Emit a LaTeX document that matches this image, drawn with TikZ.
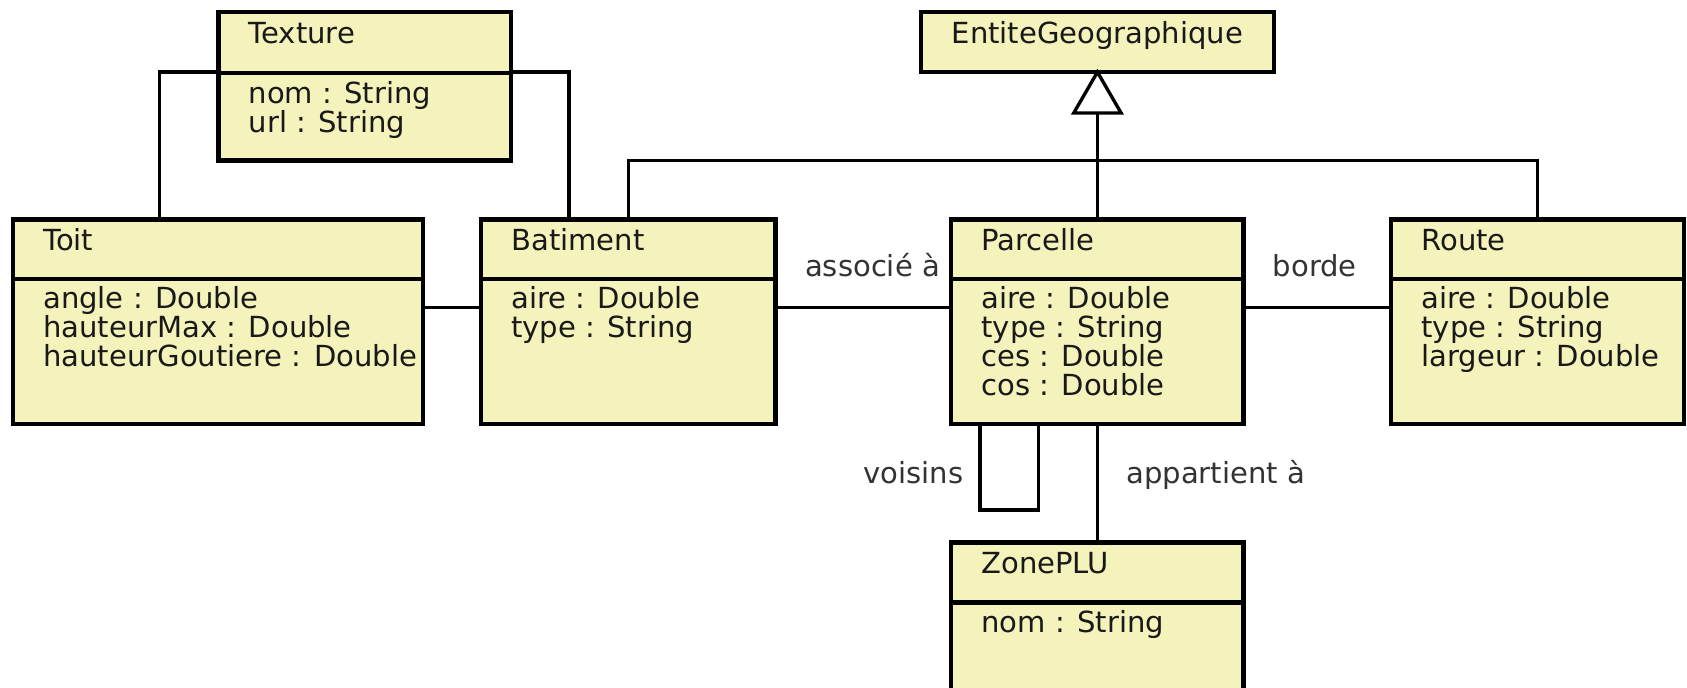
\documentclass[tikz,border=0pt]{standalone}
\usepackage{fontspec}
\setmainfont{DejaVu Sans}
\definecolor{classfill}{RGB}{245,243,188}
\begin{document}
\begin{tikzpicture}[x=1pt,y=-1pt,
  cls/.style={draw=black, fill=classfill, line width=4.2pt, anchor=north west, inner sep=0pt, outer sep=0pt},
  div/.style={line width=4pt},
  conn/.style={line width=3.1pt, line join=miter},
  txt/.style={anchor=base west, inner sep=0pt, text=black!90, font=\fontsize{27}{27}\selectfont},
  ctxt/.style={anchor=base, inner sep=0pt, text=black!90, font=\fontsize{27}{27}\selectfont},
  lab/.style={anchor=base, inner sep=0pt, text=black!80, font=\fontsize{27}{27}\selectfont}]
\clip (0,0) rectangle (1568,639);
\fill[white] (0,0) rectangle (1568,639);
% class boxes
\node[cls, minimum width=272pt, minimum height=138pt] (texture) at (203,11) {};
\node[cls, minimum width=328pt, minimum height=56pt] (entite) at (856,11) {};
\node[cls, minimum width=381pt, minimum height=190pt] (toit) at (12,204) {};
\node[cls, minimum width=274pt, minimum height=190pt] (batiment) at (447,204) {};
\node[cls, minimum width=272pt, minimum height=190pt] (parcelle) at (884,204) {};
\node[cls, minimum width=272pt, minimum height=190pt] (route) at (1293,204) {};
\node[cls, minimum width=272pt, minimum height=160pt] (zone) at (884,504) {};
% dividers
\draw[div] (texture.west |- 0,68) -- (texture.east |- 0,68);
\draw[div] (toit.west |- 0,259) -- (toit.east |- 0,259);
\draw[div] (batiment.west |- 0,259) -- (batiment.east |- 0,259);
\draw[div] (parcelle.west |- 0,259) -- (parcelle.east |- 0,259);
\draw[div] (route.west |- 0,259) -- (route.east |- 0,259);
\draw[div] (zone.west |- 0,560) -- (zone.east |- 0,560);
% titles
\node[txt] (t-texture) at (231,40) {Texture};
\node[ctxt] (t-entite) at (1020,40) {EntiteGeographique};
\node[txt] (t-toit) at (40,233) {Toit};
\node[txt] (t-batiment) at (475,233) {Batiment};
\node[txt] (t-parcelle) at (912,233) {Parcelle};
\node[txt] (t-route) at (1321,233) {Route};
\node[txt] (t-zone) at (912,533) {ZonePLU};
% attributes
\node[txt] (a-tex1) at (231,96) {nom : String};
\node[txt] (a-tex2) at (231,123) {url : String};
\node[txt] (a-toit1) at (40,287) {angle : Double};
\node[txt] (a-toit2) at (40,314) {hauteurMax : Double};
\node[txt] (a-toit3) at (40,341) {hauteurGoutiere : Double};
\node[txt] (a-bat1) at (475,287) {aire : Double};
\node[txt] (a-bat2) at (475,314) {type : String};
\node[txt] (a-par1) at (912,287) {aire : Double};
\node[txt] (a-par2) at (912,314) {type : String};
\node[txt] (a-par3) at (912,341) {ces : Double};
\node[txt] (a-par4) at (912,368) {cos : Double};
\node[txt] (a-rou1) at (1321,287) {aire : Double};
\node[txt] (a-rou2) at (1321,314) {type : String};
\node[txt] (a-rou3) at (1321,341) {largeur : Double};
\node[txt] (a-zone1) at (912,588) {nom : String};
% connectors
\coordinate (tl) at (148,67);
\coordinate (tr) at (529,67);
\coordinate (bus) at (1020,149);
\coordinate (gen) at (1020,105);
\draw[conn] (texture.west |- tl) -- (tl) -- (tl |- toit.north);
\draw[conn] (texture.east |- tr) -- (tr) -- (tr |- batiment.north);
\draw[conn] (toit.east |- 0,286) -- (batiment.west |- 0,286);
\draw[conn] (batiment.east |- 0,286) -- (parcelle.west |- 0,286);
\draw[conn] (parcelle.east |- 0,286) -- (route.west |- 0,286);
\draw[conn] (batiment.north) |- (bus) -| (route.north);
\draw[conn] (parcelle.north) -- (gen);
\draw[conn, fill=white] (entite.south) -- (gen -| 998,0) -- (gen -| 1042,0) -- cycle;
\draw[conn] (parcelle.south -| 911,0) -- (911,474) -- (965,474) -- (parcelle.south -| 965,0);
\draw[conn] (parcelle.south) -- (zone.north);
% association labels
\node[lab] (l-assoc) at (811,257) {associé à};
\node[lab] (l-borde) at (1222,257) {borde};
\node[lab] (l-voisins) at (849,449) {voisins};
\node[lab] (l-appart) at (1130,449) {appartient à};
\end{tikzpicture}
\end{document}
